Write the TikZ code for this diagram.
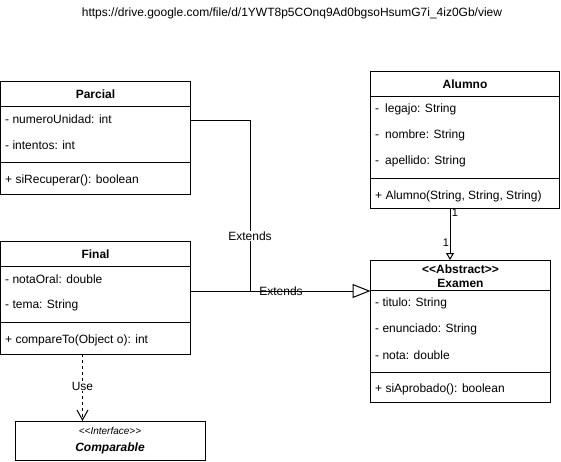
\documentclass[tikz,border=0pt]{standalone}
\usepackage{fontspec}
\setmainfont{Liberation Sans}
\usetikzlibrary{arrows.meta}
\begin{document}
\begin{tikzpicture}[x=1pt,y=-1pt,
  cls/.style={draw, line width=1pt, anchor=north west, inner sep=0pt, outer sep=0pt},
  attr/.style={anchor=west, inner sep=0pt, font=\fontsize{12}{14}\selectfont},
  hdr/.style={inner sep=0pt, font=\bfseries\fontsize{12}{14}\selectfont},
  conn/.style={line width=1pt},
  lbl/.style={fill=white, inner sep=1pt, font=\fontsize{12}{14}\selectfont},
  plain/.style={inner sep=0pt, font=\fontsize{12}{14}\selectfont},
  mult/.style={inner sep=0pt, font=\fontsize{11}{13}\selectfont},
  divl/.style={line width=1pt}
]
\useasboundingbox (0,0) rectangle (561,461);

% URL
\node[plain] (url) at (292,13) {https://drive.google.com/file/d/1YWT8p5COnq9Ad0bgsoHsumG7i\_4iz0Gb/view};

% Parcial
\node[cls, minimum width=190pt, minimum height=113pt] (parcial) at (0.5,81) {};
\draw[divl] (0.5,106) -- (190.5,106);
\draw[divl] (0.5,162) -- (190.5,162);
\node[hdr] (parcialT) at (95.5,94) {Parcial};
\node[attr] (p1) at (5,119) {- numeroUnidad: int};
\node[attr] (p2) at (5,145) {- intentos: int};
\node[attr] (p3) at (5,180) {+ siRecuperar(): boolean};

% Final
\node[cls, minimum width=190pt, minimum height=113pt] (final) at (0.5,241) {};
\draw[divl] (0.5,266) -- (190.5,266);
\draw[divl] (0.5,322) -- (190.5,322);
\node[hdr] (finalT) at (95.5,254) {Final};
\node[attr] (f1) at (5,279) {- notaOral: double};
\node[attr] (f2) at (5,305) {- tema: String};
\node[attr] (f3) at (5,340) {+ compareTo(Object o): int};

% Alumno
\node[cls, minimum width=189pt, minimum height=137pt] (alumno) at (370.5,71) {};
\draw[divl] (370.5,96) -- (559.5,96);
\draw[divl] (370.5,178) -- (559.5,178);
\node[hdr] (alumnoT) at (465,84) {Alumno};
\node[attr] (a1) at (375,109) {-\hspace{6pt}legajo: String};
\node[attr] (a2) at (375,135) {-\hspace{6pt}nombre: String};
\node[attr] (a3) at (375,161) {-\hspace{6pt}apellido: String};
\node[attr] (a4) at (375,196) {+ Alumno(String, String, String)};

% Examen
\node[cls, minimum width=180pt, minimum height=142pt] (examen) at (370.5,260) {};
\draw[divl] (370.5,290) -- (550.5,290);
\draw[divl] (370.5,372) -- (550.5,372);
\node[hdr] (examenS) at (460.5,269) {<{}<Abstract>{}>};
\node[hdr] (examenT) at (460.5,283) {Examen};
\node[attr] (e1) at (375,303) {- titulo: String};
\node[attr] (e2) at (375,329) {- enunciado: String};
\node[attr] (e3) at (375,355) {- nota: double};
\node[attr] (e4) at (375,389) {+ siAprobado(): boolean};

% Comparable
\node[cls, minimum width=190pt, minimum height=39pt] (comparable) at (15,421) {};
\node[inner sep=0pt, font=\itshape\fontsize{10}{12}\selectfont] (compS) at (110,431) {<{}<Interface>{}>};
\node[inner sep=0pt, font=\bfseries\itshape\fontsize{12}{14}\selectfont] (compT) at (110,448) {Comparable};

% Connectors
\coordinate (j1) at (250,120);
\coordinate (j2) at (250,291);
\coordinate (ax) at (450,0);
\coordinate (ux) at (82.5,0);

\draw[conn] (parcial.north east) ++(0,39) -- (j1) -- (j2);
\draw[conn, -{Triangle[open, length=18pt, width=14pt, line width=1pt]}] (final.north east) ++(0,50) -- (examen.west |- j2);
\node[lbl] (ext1) at (250,236) {Extends};
\node[plain] (ext2) at (281,291) {Extends};

\draw[conn, -{Triangle[open, length=7pt, width=8pt, line width=1pt]}] (alumno.south -| ax) -- (examen.north -| ax);
\node[mult] (m1) at (455,213) {1};
\node[mult] (m2) at (446,243) {1};

\draw[conn, dash pattern=on 3pt off 3pt, -{Straight Barb[length=10pt, width=11pt, line width=1pt]}] (final.south -| ux) -- (comparable.north -| ux);
\node[lbl] (use) at (82.5,386) {Use};
\end{tikzpicture}
\end{document}
